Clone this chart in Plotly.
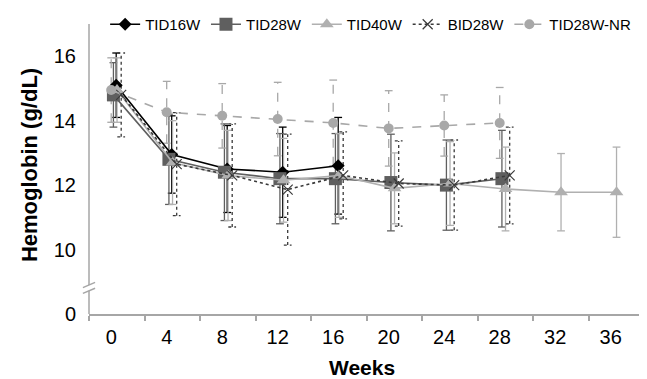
import plotly.graph_objects as go

# ---------------- data ----------------
weeks_all = [0, 4, 8, 12, 16, 20, 24, 28, 32, 36]
week_ticks = ["0", "4", "8", "12", "16", "20", "24", "28", "32", "36"]

weeks_tid16w = [0, 4, 8, 12, 16]
tid16w = [15.1, 12.95, 12.5, 12.4, 12.6]
tid16w_sd = [1.0, 1.2, 1.35, 1.4, 1.5]

weeks_tid28w = [0, 4, 8, 12, 16, 20, 24, 28]
tid28w = [14.8, 12.8, 12.4, 12.2, 12.2, 12.08, 12.0, 12.2]
tid28w_sd = [1.0, 1.4, 1.5, 1.4, 1.4, 1.5, 1.4, 1.5]

weeks_tid40w = [0, 4, 8, 12, 16, 20, 24, 28, 32, 36]
tid40w = [14.95, 12.7, 12.3, 12.15, 12.3, 11.9, 12.05, 11.88, 11.78, 11.78]
tid40w_sd = [1.0, 1.3, 1.4, 1.3, 1.3, 1.1, 1.3, 1.3, 1.2, 1.4]

weeks_bid28w = [0, 4, 8, 12, 16, 20, 24, 28]
bid28w = [14.8, 12.65, 12.3, 11.86, 12.3, 12.05, 12.0, 12.3]
bid28w_sd = [1.3, 1.6, 1.6, 1.72, 1.35, 1.32, 1.4, 1.5]

weeks_nr = [0, 4, 8, 12, 16, 20, 24, 28]
tid28w_nr = [14.95, 14.26, 14.15, 14.05, 13.93, 13.76, 13.85, 13.93]
tid28w_nr_sd = [1.0, 0.96, 1.0, 1.14, 1.33, 1.17, 0.95, 1.1]

y_ticks = [0, 10, 12, 14, 16]

# broken axis: real value 0 is drawn where 8 would be
def ypos(v):
    return v if v >= 9 else 8 + v / 10.0

FONT = "Liberation Sans, Arial, sans-serif"
CAP = 0.28  # half cap width (weeks)

series = [
    dict(name="TID16W", x=weeks_tid16w, y=tid16w, sd=tid16w_sd, off=0.36,
         color="#000000", dash="solid", symbol="diamond", msize=10, mcolor="#000000"),
    dict(name="TID28W", x=weeks_tid28w, y=tid28w, sd=tid28w_sd, off=0.16,
         color="#5f5f5f", dash="solid", symbol="square", msize=13, mcolor="#5f5f5f"),
    dict(name="TID40W", x=weeks_tid40w, y=tid40w, sd=tid40w_sd, off=0.42,
         color="#b0b0b0", dash="solid", symbol="triangle-up", msize=12, mcolor="#b0b0b0"),
    dict(name="BID28W", x=weeks_bid28w, y=bid28w, sd=bid28w_sd, off=0.72,
         color="#3a3a3a", dash="dot", symbol="x-thin", msize=10, mcolor="#3a3a3a"),
    dict(name="TID28W-NR", x=weeks_nr, y=tid28w_nr, sd=tid28w_nr_sd, off=0.0,
         color="#a8a8a8", dash="dash", symbol="circle", msize=10, mcolor="#a8a8a8"),
]

fig = go.Figure()

# error bars (drawn as line traces so that dash styles are possible)
for s in series:
    ex, ey = [], []
    for w, v, e in zip(s["x"], s["y"], s["sd"]):
        xx = w + s["off"]
        lo, hi = ypos(v - e), ypos(v + e)
        ex += [xx, xx, None, xx - CAP, xx + CAP, None, xx - CAP, xx + CAP, None]
        ey += [lo, hi, None, hi, hi, None, lo, lo, None]
    fig.add_trace(go.Scatter(
        x=ex, y=ey, mode="lines", showlegend=False, hoverinfo="skip",
        line=dict(color=s["color"], width=1.3, dash=s["dash"])))

# series
for s in series:
    marker = dict(symbol=s["symbol"], size=s["msize"], color=s["mcolor"])
    if s["symbol"] == "x-thin":
        marker["line"] = dict(color=s["mcolor"], width=1.2)
    fig.add_trace(go.Scatter(
        x=[w + s["off"] for w in s["x"]], y=[ypos(v) for v in s["y"]],
        mode="lines+markers", name=s["name"],
        line=dict(color=s["color"], width=1.6, dash=s["dash"]),
        marker=marker))

AX = "#a6a6a6"
x0, x1 = -1.6, 38.4
y0, y1 = 8, 17

fig.update_xaxes(
    range=[x0, x1], tickvals=weeks_all, ticktext=week_ticks, ticks="",
    showgrid=False, zeroline=False, showline=True, linecolor=AX, linewidth=1.5,
    tickfont=dict(family=FONT, size=20, color="#000000"),
    minor=dict(tick0=x0, dtick=4, ticks="outside", ticklen=5, tickcolor=AX,
               tickwidth=1.5, showgrid=False),
    ticklabelstandoff=4, automargin=False)
fig.update_yaxes(
    range=[y0, y1], tickvals=[ypos(v) for v in y_ticks],
    ticktext=[str(v) for v in y_ticks], ticks="", showgrid=False, zeroline=False,
    showline=False, tickfont=dict(family=FONT, size=20, color="#000000"),
    ticklabelstandoff=12, automargin=False)

# y axis line with a break
brk_lo, brk_hi = 8.72, 8.9
fig.add_shape(type="line", xref="paper", yref="y", x0=0, x1=0, y0=y0, y1=brk_lo,
              line=dict(color=AX, width=1.5))
fig.add_shape(type="line", xref="paper", yref="y", x0=0, x1=0, y0=brk_hi, y1=y1,
              line=dict(color=AX, width=1.5))
for yy in (brk_lo, brk_hi):
    fig.add_shape(type="line", xref="paper", yref="y", x0=-0.011, x1=0.011,
                  y0=yy - 0.08, y1=yy + 0.08, line=dict(color=AX, width=1.5))

fig.add_annotation(text="<b>Weeks</b>", xref="paper", yref="paper", x=0.492, y=-0.186,
                   xanchor="center", yanchor="middle",
                   showarrow=False, font=dict(family=FONT, size=21, color="#000000"))
fig.add_annotation(text="<b>Hemoglobin (g/dL)</b>", xref="paper", yref="paper",
                   x=-0.106, y=0.514, xanchor="center", yanchor="middle",
                   textangle=-90, showarrow=False,
                   font=dict(family=FONT, size=22, color="#000000"))

# page body has an 8px margin: figure is sized to the visible area
fig.update_layout(
    width=639, height=371,
    margin=dict(l=81, r=3, t=16, b=65, autoexpand=False),
    plot_bgcolor="white", paper_bgcolor="white",
    showlegend=True,
    legend=dict(orientation="h", xref="container", yref="container",
                x=0.152, y=1.0, xanchor="left", yanchor="top",
                font=dict(family=FONT, size=15, color="#000000"),
                bgcolor="rgba(0,0,0,0)", itemwidth=30, tracegroupgap=0),
)

fig.write_html("out.html")
